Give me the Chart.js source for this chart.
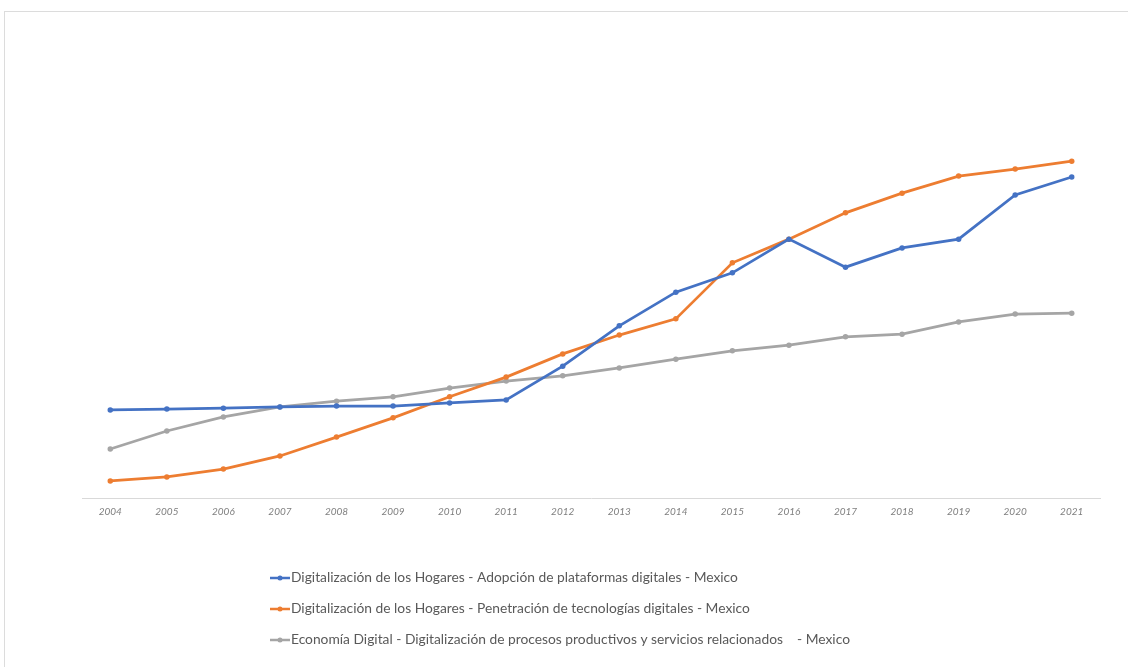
<!DOCTYPE html>
<html>
<head>
<meta charset="utf-8">
<script src="https://cdn.jsdelivr.net/npm/chart.js@4.4.0/dist/chart.umd.min.js"></script>
<style>
    html, body { margin: 0; padding: 0; background: #fff; }
    #wrap { position: relative; width: 1128px; height: 667px; overflow: hidden; }
    #frame { position: absolute; left: 4px; top: 11px; width: 1200px; height: 700px; border: 1px solid #dcdcdc; }
    canvas { position: absolute; left: 0; top: 0; }
</style>
</head>
<body>
<div id="wrap">
    <div id="frame"></div>
    <canvas id="chart" width="1128" height="667"></canvas>
</div>
<script>
const years = ['2004', '2005', '2006', '2007', '2008', '2009', '2010', '2011', '2012',
               '2013', '2014', '2015', '2016', '2017', '2018', '2019', '2020', '2021'];

const adopcionPlataformas = [20.1, 20.3, 20.5, 20.8, 21.0, 21.0, 21.7, 22.4, 30.1,
                             39.3, 47.0, 51.4, 59.1, 52.7, 57.1, 59.1, 69.2, 73.3];
const penetracionTecnologias = [3.9, 4.8, 6.6, 9.6, 13.9, 18.3, 23.1, 27.6, 32.9,
                                37.2, 40.9, 53.7, 59.1, 65.1, 69.6, 73.5, 75.1, 76.9];
const procesosProductivos = [11.2, 15.3, 18.5, 20.8, 22.1, 23.1, 25.1, 26.7, 27.9,
                             29.7, 31.7, 33.6, 34.9, 36.8, 37.4, 40.2, 42.0, 42.2];

const seriesLabels = [
    'Digitalización de los Hogares - Adopción de plataformas digitales - Mexico',
    'Digitalización de los Hogares - Penetración de tecnologías digitales - Mexico',
    'Economía Digital - Digitalización de procesos productivos y servicios relacionados   - Mexico'
];

const colors = ['#4472c4', '#ed7d31', '#a5a5a5'];

// Legend stacked one entry per line, left aligned under the plot
const stackedLegend = {
    id: 'stackedLegend',
    afterDraw(chart) {
        const ctx = chart.ctx;
        const x = 270;
        let y = 578;
        ctx.save();
        chart.data.datasets.forEach((ds) => {
            ctx.strokeStyle = ds.borderColor;
            ctx.lineWidth = 2.5;
            ctx.beginPath();
            ctx.moveTo(x, y);
            ctx.lineTo(x + 20, y);
            ctx.stroke();
            ctx.fillStyle = ds.borderColor;
            ctx.beginPath();
            ctx.arc(x + 10, y, 2.5, 0, Math.PI * 2);
            ctx.fill();
            ctx.fillStyle = '#595959';
            ctx.font = '13.8px Lato, "Open Sans", sans-serif';
            ctx.textBaseline = 'middle';
            // keep repeated spaces from collapsing
            ctx.fillText(ds.label.replace(/ {2,}/g, s => '\u00a0'.repeat(s.length + 1)), x + 21, y);
            y += 31;
        });
        ctx.restore();
    }
};

const makeDataset = (label, data, color) => ({
    label: label,
    data: data,
    borderColor: color,
    backgroundColor: color,
    borderWidth: 2.75,
    pointRadius: 2.75,
    pointBorderWidth: 0,
    tension: 0
});

new Chart(document.getElementById('chart'), {
    type: 'line',
    data: {
        labels: years,
        datasets: [
            makeDataset(seriesLabels[0], adopcionPlataformas, colors[0]),
            makeDataset(seriesLabels[1], penetracionTecnologias, colors[1]),
            makeDataset(seriesLabels[2], procesosProductivos, colors[2])
        ]
    },
    options: {
        responsive: false,
        animation: false,
        layout: {
            padding: { left: 82, right: 28, top: 60, bottom: 141 }
        },
        plugins: {
            legend: { display: false },
            tooltip: { enabled: false }
        },
        scales: {
            x: {
                offset: true,
                grid: { display: false, drawTicks: false },
                border: { display: true, color: '#d9d9d9', width: 1 },
                ticks: {
                    padding: 8,
                    color: '#7f7f7f',
                    font: { family: 'Lato, "Open Sans", sans-serif', size: 10, style: 'italic' }
                }
            },
            y: {
                display: false,
                min: 0,
                max: 100
            }
        }
    },
    plugins: [stackedLegend]
});
</script>
</body>
</html>
